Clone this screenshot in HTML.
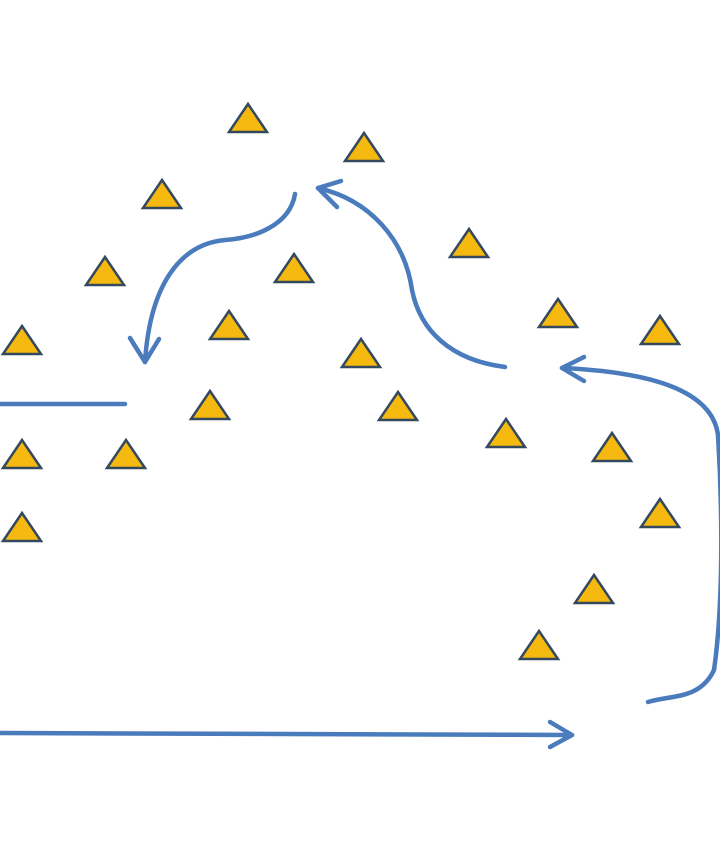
<!DOCTYPE html>
<html><head><style>html,body{margin:0;padding:0;background:#fff;}svg{display:block}</style></head>
<body>
<svg width="720" height="845" viewBox="0 0 720 845" xmlns="http://www.w3.org/2000/svg">
<defs>
<g id="t"><polygon points="0,-14 19,14 -19,14" fill="#f5b90f" stroke="#34495e" stroke-width="2.5" stroke-linejoin="miter"/></g>
</defs>
<g>
<use href="#t" x="248" y="118"/>
<use href="#t" x="364" y="147"/>
<use href="#t" x="162" y="194"/>
<use href="#t" x="469" y="243"/>
<use href="#t" x="105" y="271"/>
<use href="#t" x="294" y="268"/>
<use href="#t" x="558" y="313"/>
<use href="#t" x="660" y="330"/>
<use href="#t" x="22" y="340"/>
<use href="#t" x="229" y="325"/>
<use href="#t" x="361" y="353"/>
<use href="#t" x="210" y="405"/>
<use href="#t" x="398" y="406"/>
<use href="#t" x="506" y="433"/>
<use href="#t" x="612" y="447"/>
<use href="#t" x="22" y="454"/>
<use href="#t" x="126" y="454"/>
<use href="#t" x="660" y="513"/>
<use href="#t" x="22" y="527"/>
<use href="#t" x="594" y="589"/>
<use href="#t" x="539" y="645"/>
</g>
<g fill="none" stroke="#4a7bbd" stroke-width="4.5" stroke-linecap="round" stroke-linejoin="round">
<path d="M295,194 C290,225 255,238 225,240 C180,244 150,285 145,362"/>
<path d="M130,338 L145,362 L159,339"/>
<path d="M505,367 C450,360 420,330 412,290 C405,240 370,200 318,188"/>
<path d="M341,181 L318,188 L337,207"/>
<path d="M648,702 C670,695 700,700 714,670 C724,600 722,500 718,435 C712,390 650,372 562,368"/>
<path d="M584,357 L562,368 L584,381"/>
<path d="M0,404 L125,404"/>
<path d="M0,733 L572,735"/>
<path d="M550,722 L572,735 L550,747"/>
</g>
</svg>
</body></html>
